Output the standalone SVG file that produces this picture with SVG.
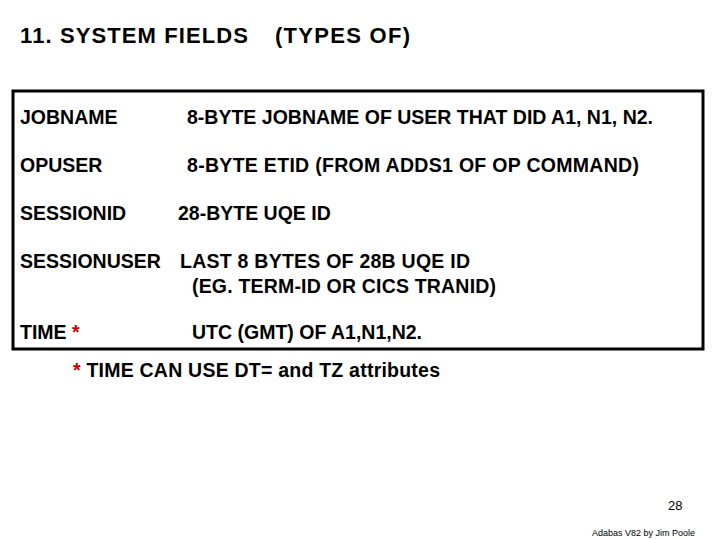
<svg xmlns="http://www.w3.org/2000/svg" width="720" height="540" viewBox="0 0 720 540">
<style>
text{font-family:"Liberation Sans",Arial,sans-serif;font-weight:bold;fill:#000}
.t{font-size:22px}
.r{font-size:19.5px}
.red{fill:#c00000}
</style>
<rect width="720" height="540" fill="#fff"/>
<text class="t" x="20" y="43" textLength="228">11. SYSTEM FIELDS</text>
<text class="t" x="275" y="43" textLength="135">(TYPES OF)</text>
<rect x="13" y="91" width="690" height="258" fill="none" stroke="#000" stroke-width="3"/>
<text class="r" x="20" y="124">JOBNAME</text>
<text class="r" x="187" y="124" textLength="466">8-BYTE JOBNAME OF USER THAT DID A1, N1, N2.</text>
<text class="r" x="20" y="172">OPUSER</text>
<text class="r" x="187" y="172" textLength="452">8-BYTE ETID (FROM ADDS1 OF OP COMMAND)</text>
<text class="r" x="20" y="220">SESSIONID</text>
<text class="r" x="178" y="220">28-BYTE UQE ID</text>
<text class="r" x="20" y="268">SESSIONUSER</text>
<text class="r" x="180" y="268" textLength="290">LAST 8 BYTES OF 28B UQE ID</text>
<text class="r" x="192" y="293" textLength="304">(EG. TERM-ID OR CICS TRANID)</text>
<text class="r" x="20" y="339">TIME <tspan class="red">*</tspan></text>
<text class="r" x="192" y="339">UTC (GMT) OF A1,N1,N2.</text>
<text class="r" x="73" y="377" textLength="367"><tspan class="red">*</tspan> TIME CAN USE DT= and TZ attributes</text>
<text x="668" y="510" style="font-size:13px;font-weight:normal">28</text>
<text x="592" y="536" style="font-size:9px;font-weight:normal">Adabas V82 by Jim Poole</text>
</svg>
